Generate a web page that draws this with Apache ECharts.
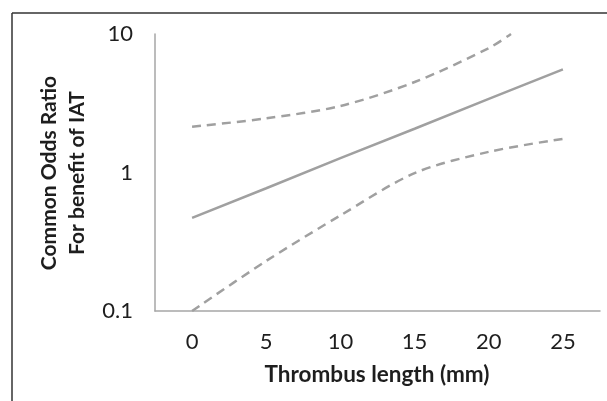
<!DOCTYPE html>
<html>
<head>
  <meta charset="utf-8">
  <title>Common Odds Ratio vs Thrombus length</title>
  <script src="https://cdn.jsdelivr.net/npm/echarts@6/dist/echarts.min.js"></script>
  <style>
    html, body { margin: 0; padding: 0; background: #fff; }
  </style>
</head>
<body>
  <div id="chart" style="width: 607px; height: 401px;"></div>

  <script>
    // values
    const xTicks = [0, 5, 10, 15, 20, 25];
    const oddsRatio = [0.47, 0.77, 1.27, 2.07, 3.40, 5.56];
    const upperX = [0, 5, 10, 15, 20, 21.5];
    const upperCI = [2.14, 2.46, 3.02, 4.5, 7.9, 10];
    const lowerCI = [0.10, 0.23, 0.49, 0.99, 1.41, 1.75];

    const pairs = (xs, ys) => xs.map((x, i) => [x, ys[i]]);

    const chart = echarts.init(document.getElementById('chart'));
    const textColor = '#1e1e1e';
    const lineColor = '#a0a0a0';
    const font = 'Lato, "Open Sans", sans-serif';

    chart.setOption({
      animation: false,
      grid: { left: 155, right: 7, top: 34, bottom: 90 },
      xAxis: {
        type: 'value',
        min: -2.5,
        max: 27.5,
        interval: 2.5,
        splitLine: { show: false },
        axisTick: { show: false },
        axisLine: { lineStyle: { color: '#a6a6a6', width: 1.5 } },
        axisLabel: {
          color: textColor, fontSize: 22, fontFamily: font, margin: 20,
          formatter: v => (xTicks.includes(v) ? String(v) : '')
        }
      },
      yAxis: {
        type: 'log',
        logBase: 10,
        min: 0.1,
        max: 10,
        splitLine: { show: false },
        axisTick: { show: false },
        axisLine: { show: true, onZero: false, lineStyle: { color: '#a6a6a6', width: 1.5 } },
        axisLabel: {
          color: textColor, fontSize: 22, fontFamily: font, margin: 22,
          formatter: v => (v < 1 ? '0.1' : String(Math.round(v)))
        }
      },
      graphic: [
        { type: 'line', shape: { x1: 12, y1: 13, x2: 12, y2: 401 }, style: { stroke: '#333', lineWidth: 1.5 } },
        { type: 'line', shape: { x1: 12, y1: 13, x2: 607, y2: 13 }, style: { stroke: '#333', lineWidth: 1.5 } },
        {
          type: 'text', x: 63, y: 173, rotation: Math.PI / 2,
          style: {
            text: 'Common Odds Ratio\nFor benefit of IAT',
            fill: textColor, font: 'bold 21px ' + font,
            textAlign: 'center', textVerticalAlign: 'middle', lineHeight: 28
          }
        },
        {
          type: 'text', x: 377, y: 375,
          style: {
            text: 'Thrombus length (mm)',
            fill: textColor, font: 'bold 22.5px ' + font,
            textAlign: 'center', textVerticalAlign: 'middle'
          }
        }
      ],
      series: [
        {
          type: 'line', symbol: 'none', data: pairs(xTicks, oddsRatio),
          lineStyle: { color: lineColor, width: 2.5 }
        },
        {
          type: 'line', symbol: 'none', smooth: 0.3, data: pairs(upperX, upperCI),
          lineStyle: { color: lineColor, width: 2.5, type: [9, 6] }
        },
        {
          type: 'line', symbol: 'none', smooth: 0.3, data: pairs(xTicks, lowerCI),
          lineStyle: { color: lineColor, width: 2.5, type: [9, 6] }
        }
      ]
    });
  </script>
</body>
</html>
